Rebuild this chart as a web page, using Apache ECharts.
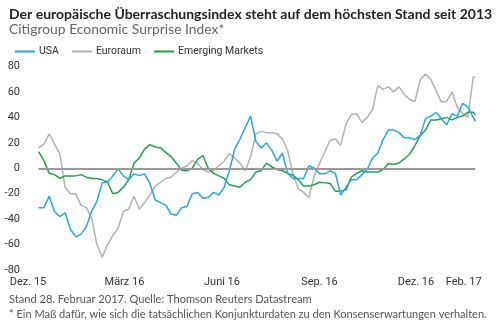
<!DOCTYPE html>
<html>
<head>
<meta charset="utf-8">
<script src="https://cdn.jsdelivr.net/npm/echarts@6/dist/echarts.min.js"></script>
<style>
  html, body { margin: 0; padding: 0; background: #fff; }
  #chart { width: 500px; height: 324px; }
</style>
</head>
<body>
<div id="chart"></div>
<script>
// Days counted from 1 Dec 2015
const days = [
  10, 15, 20, 25, 30, 35, 40, 45, 50, 55, 60, 65, 70, 75, 80, 85, 90, 95, 100, 105, 110,
  115, 120, 125, 130, 135, 140, 145, 150, 155, 160, 165, 170, 175, 180, 185, 190, 195, 200, 205, 210, 215,
  220, 225, 230, 235, 240, 245, 250, 255, 260, 265, 270, 275, 280, 285, 290, 295, 300, 305, 310, 315, 320,
  325, 330, 335, 340, 345, 350, 355, 360, 365, 370, 375, 380, 385, 390, 395, 400, 405, 410, 415, 420, 422
];

const usa = [
  -31, -31, -22, -34, -38, -35, -48, -54, -52, -46, -34, -26, -11.5, -11, -6, -0.5, -6, -9, -4.4, -5.8, -4.4,
  -12, -25, -27, -29, -36, -37, -31, -30, -20, -19, -23.5, -23, -19, -21, -15, -2, 15, 23, 32, 41, 21,
  16, 20, 14, 5.5, 12, -4, -8, -8, -8, 2, 0, -4.4, -4.4, -2, -4, -21, -15, -9, -9, -5, -1,
  8, 12, 22.5, 30, 30, 28, 24, 24, 22.5, 26, 39, 41, 44, 39, 34, 43, 41, 51, 48, 40, 37
];

const euroraum = [
  16, 19, 27, 19, 11.5, -15, -20, -20, -29, -31, -39, -60, -70, -60, -53, -47, -34, -32, -22, -32, -27,
  -21, -14, -11, -8, -7, -3, 0, 2, 6, 4, -1, -3, -2, 2, 5.5, 11.5, 8, 4, -2, 9, 27,
  29, 28, 28, 27, 23, 14, -5, -16, -19, -23, -6, 4, 13, 22, 23, 18, 35, 42, 43, 36, 40,
  46, 65, 62, 64, 60, 64, 58, 54, 52.5, 69.5, 74, 70, 61, 52, 52.5, 60, 48, 43, 40, 71.6, 72
];

const emerging = [
  13, 6, -4, -5, -8, -6, -6, -6, -5, -7, -8, -8, -9, -11, -20, -19, -15, -9, 4, 8, 15,
  18.6, 16.7, 16, 12.5, 9, 4, -1.6, -2, 0, 7, 10, 0, -4, -6, -8, -13, -14, -15, -11, -9, -3,
  -2, 4, 1, -1, -2, -4, -5.5, -9, -14, -14, -13, -11, -11.5, -12, -18, -18, -17, -7, -4, -2, -3,
  -3, -3, -1, 3.7, 3, 4.2, 7.3, 11, 17.8, 25.6, 30, 38, 38, 39, 40, 38, 40, 41, 44, 44, 42
];

// x-axis tick positions (days) and their labels
const xTickDays = [0, 91, 183, 275, 366, 411];
const xTickLabels = ['Dez. 15', 'März 16', 'Juni 16', 'Sep. 16', 'Dez. 16', 'Feb. 17'];

const seriesNames = ['USA', 'Euroraum', 'Emerging Markets'];
const seriesColors = ['#25a7e3', '#b2b2b2', '#22a24f'];

const labelFont = "Roboto, 'Liberation Sans', sans-serif";

const pair = arr => days.map((d, i) => [d, arr[i]]);

const chart = echarts.init(document.getElementById('chart'), null, { renderer: 'canvas' });

chart.setOption({
  animation: false,
  backgroundColor: '#fff',
  title: [
    {
      text: 'Der europäische Überraschungsindex steht auf dem höchsten Stand seit 2013',
      left: 4, top: 2,
      textStyle: { fontFamily: 'Lato', fontWeight: 'bold', fontSize: 14, color: '#222' }
    },
    {
      text: 'Citigroup Economic Surprise Index*',
      left: 4, top: 18,
      textStyle: { fontFamily: 'Lato', fontWeight: 'normal', fontSize: 13.9, color: '#666' }
    },
    {
      text: 'Stand 28. Februar 2017. Quelle: Thomson Reuters Datastream',
      left: 4, top: 289,
      textStyle: { fontFamily: 'Lato', fontWeight: 'normal', fontSize: 11.1, color: '#555' }
    },
    {
      text: '* Ein Maß dafür, wie sich die tatsächlichen Konjunkturdaten zu den Konsenserwartungen verhalten.',
      left: 4, top: 304,
      textStyle: { fontFamily: 'Lato', fontWeight: 'normal', fontSize: 11, color: '#555' }
    }
  ],
  legend: {
    data: seriesNames,
    left: 10, top: 41,
    icon: 'rect',
    itemWidth: 20, itemHeight: 2,
    itemGap: 13,
    textStyle: { fontFamily: labelFont, fontSize: 10.5, color: '#333', padding: [0, 0, 0, -1] }
  },
  grid: {
    left: 28, right: 5.6, top: 66.5, bottom: 54,
    containLabel: false,
    outerBoundsMode: 'none'
  },
  xAxis: {
    type: 'value',
    min: 0, max: 440,
    axisLine: { show: false },
    axisTick: { show: false },
    splitLine: { show: false },
    axisLabel: {
      customValues: xTickDays,
      formatter: v => xTickLabels[xTickDays.indexOf(v)] || '',
      fontFamily: labelFont, fontSize: 11, color: '#333', margin: 7
    }
  },
  yAxis: {
    type: 'value',
    min: -80, max: 80, interval: 20,
    axisLine: { show: false },
    axisTick: { show: false },
    splitLine: { show: false },
    axisLabel: { fontFamily: labelFont, fontSize: 11, color: '#333', margin: 8 }
  },
  series: [
    {
      name: 'Euroraum', type: 'line', z: 1,
      data: pair(euroraum),
      showSymbol: false, symbol: 'none',
      lineStyle: { color: seriesColors[1], width: 1.5 },
      itemStyle: { color: seriesColors[1] },
      markLine: {
        silent: true,
        symbol: 'none',
        label: { show: false },
        lineStyle: { color: '#999', width: 2, type: 'solid' },
        data: [[{ coord: [days[0], 0] }, { coord: [days[days.length - 1], 0] }]]
      }
    },
    {
      name: 'Emerging Markets', type: 'line', z: 2,
      data: pair(emerging),
      showSymbol: false, symbol: 'none',
      lineStyle: { color: seriesColors[2], width: 1.5 },
      itemStyle: { color: seriesColors[2] }
    },
    {
      name: 'USA', type: 'line', z: 3,
      data: pair(usa),
      showSymbol: false, symbol: 'none',
      lineStyle: { color: seriesColors[0], width: 1.5 },
      itemStyle: { color: seriesColors[0] }
    }
  ]
});
</script>
</body>
</html>
